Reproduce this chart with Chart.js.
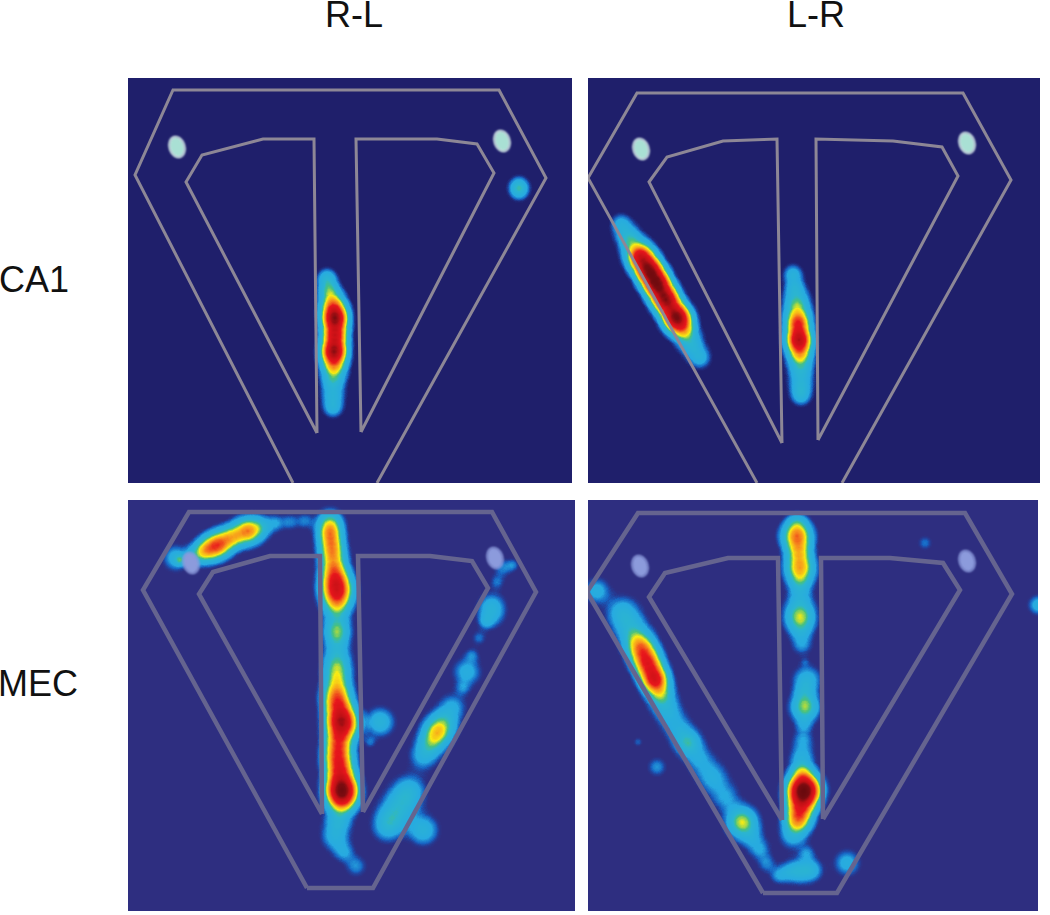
<!DOCTYPE html>
<html>
<head>
<meta charset="utf-8">
<title>Place fields</title>
<script src="https://cdn.jsdelivr.net/npm/chart.js@4"></script>
<style>
  html, body { margin: 0; background: #fff; }
  body { position: relative; width: 1050px; height: 915px; overflow: hidden; font-family: "Liberation Sans", Arial, sans-serif; color: #111; }
  .label { position: absolute; font-size: 36px; line-height: 36px; }
  canvas { position: absolute; }
</style>
</head>
<body>
<div class="label" style="left:325px;top:-3px">R-L</div>
<div class="label" style="left:787px;top:-3px">L-R</div>
<div class="label" style="left:-1px;top:262px">CA1</div>
<div class="label" style="left:-2px;top:666px">MEC</div>
<canvas id="ca1RL" style="left:128px;top:78px" width="444" height="405"></canvas>
<canvas id="ca1LR" style="left:588px;top:78px" width="452" height="405"></canvas>
<canvas id="mecRL" style="left:128px;top:500px" width="447" height="411"></canvas>
<canvas id="mecLR" style="left:588px;top:500px" width="450" height="411"></canvas>
<script>
// track walls, [x, y] in figure pixels
const ca1RLOuter = [[293,483],[135,175],[173,90],[499,90],[546,178],[377,483]];
const ca1RLInnerL = [[317,433],[314,139],[263,139],[202,155],[186,182],[317,433]];
const ca1RLInnerR = [[361,432],[356,139],[437,139],[477,144],[494,173],[361,432]];
const ca1LROuter = [[757,483],[588,178],[637,93],[963,93],[1011,180],[842,483]];
const ca1LRInnerL = [[782,443],[777,139],[723,141],[667,157],[649,182],[782,443]];
const ca1LRInnerR = [[818,440],[816,139],[893,141],[942,147],[958,176],[818,440]];
const mecRLOuter = [[307,888],[143,590],[189,512],[492,512],[536,592],[373,888],[307,888]];
const mecRLInnerL = [[322,814],[320,556],[270,556],[213,572],[199,594],[322,814]];
const mecRLInnerR = [[363,812],[358,556],[430,556],[472,561],[488,588],[363,812]];
const mecLROuter = [[763,893],[587,592],[638,513],[965,513],[1012,594],[837,893],[763,893]];
const mecLRInnerL = [[782,820],[778,558],[728,558],[665,573],[649,597],[782,820]];
const mecLRInnerR = [[823,819],[821,558],[890,558],[943,563],[960,590],[823,819]];

// reward ports, [x, y]
const ca1RLPorts = [[177,147],[502,141]];
const ca1LRPorts = [[641,149],[967,143]];
const mecRLPorts = [[191,563],[495,558]];
const mecLRPorts = [[640,566],[967,561]];

// firing rate bumps, [x, y, radius, rate]
const ca1RLRates = [[327,278,18,.16],[329,290,20,.2],[333,304,24,.35],[335,318,24,.75],[335,335,24,.55],[334,352,24,.75],[334,368,24,.3],[333,382,22,.14],[333,396,22,.13],[333,408,18,.13],[519,186,18,.14],[519,191,18,.12]];
const ca1LRRates = [[621,224,20,.12],[629,238,24,.2],[640,256,26,.6],[649,270,26,.7],[657,284,26,.75],[666,300,26,.75],[677,318,26,.85],[685,332,24,.25],[692,346,24,.14],[700,358,20,.13],[793,274,18,.14],[795,288,20,.14],[797,304,24,.25],[798,322,24,.5],[799,340,24,.7],[800,356,24,.3],[801,372,24,.14],[801,386,22,.13],[801,396,18,.13]];
const mecRLRates = [[176,558,24,.14],[180,560,10,.15],[195,556,20,.1],[205,551,24,.3],[218,545,26,.45],[232,537,24,.28],[248,531,26,.42],[262,527,22,.13],[276,523,16,.09],[290,522,16,.08],[305,521,16,.08],[330,522,24,.22],[330,534,24,.34],[332,548,24,.32],[333,562,26,.28],[335,576,26,.32],[337,590,30,.55],[337,604,26,.2],[337,618,26,.11],[337,632,24,.24],[337,646,24,.11],[337,660,26,.14],[337,672,26,.22],[337,686,26,.2],[337,700,28,.42],[341,715,28,.28],[342,725,30,.6],[338,742,26,.32],[338,757,28,.42],[340,772,28,.38],[342,790,30,.8],[342,802,28,.25],[338,822,26,.14],[335,838,26,.12],[344,852,20,.1],[356,866,20,.09],[380,722,26,.17],[370,742,12,.07],[410,790,30,.12],[402,803,34,.14],[392,818,32,.14],[387,828,28,.1],[423,830,28,.16],[453,706,26,.1],[444,722,28,.16],[437,733,28,.3],[430,745,26,.14],[423,757,26,.11],[463,688,14,.07],[467,672,26,.13],[472,655,14,.07],[479,638,14,.07],[486,622,14,.08],[492,605,26,.1],[491,615,26,.1],[497,582,14,.07],[503,568,18,.08],[513,565,12,.07]];
const mecLRRates = [[597,591,24,.13],[925,543,14,.07],[1038,605,18,.14],[638,742,10,.06],[657,767,18,.09],[847,863,24,.13],[622,612,30,.13],[630,626,32,.12],[637,640,28,.18],[642,650,28,.33],[648,664,28,.45],[655,680,26,.55],[661,696,26,.22],[668,712,28,.12],[678,728,28,.1],[688,743,26,.22],[700,760,28,.1],[713,778,30,.12],[726,798,28,.1],[742,822,28,.33],[752,838,24,.09],[760,850,20,.09],[767,864,18,.08],[797,522,20,.1],[797,536,28,.45],[799,552,24,.22],[800,568,28,.38],[800,582,22,.12],[800,596,24,.11],[800,616,28,.3],[801,630,24,.1],[802,645,20,.09],[805,662,10,.04],[807,680,26,.15],[804,692,20,.08],[805,707,26,.3],[804,725,18,.08],[803,740,20,.09],[802,757,24,.12],[802,772,22,.18],[804,790,30,.95],[801,806,28,.32],[798,820,26,.38],[793,836,26,.12],[807,853,16,.08],[788,872,20,.1],[800,871,24,.14],[812,870,22,.12],[778,876,16,.08]];

// value -> colour stops of the map
const rampStops = [[.02,30,60,160,0],[.06,23,102,196,255],[.10,39,170,225,255],[.21,43,181,208,255],[.26,70,192,130,255],[.33,247,236,19,255],[.43,247,148,29,255],[.56,232,22,28,255],[.75,192,16,21,255],[.88,122,12,16,255],[1,106,10,14,255]];

function buildRamp() {
    const ramp = [];
    for (let v = 0; v < 256; v++) {
        const t = v / 255;
        let i = 0;
        while (i < rampStops.length - 2 && t > rampStops[i + 1][0]) i++;
        const a = rampStops[i], b = rampStops[i + 1];
        const k = Math.min(1, Math.max(0, (t - a[0]) / (b[0] - a[0])));
        ramp.push([1, 2, 3, 4].map(c => a[c] + (b[c] - a[c]) * k));
    }
    return ramp;
}
const ramp = buildRamp();

// rates add up in the alpha channel, then get coloured with the ramp
const heatPlugin = {
    id: "heatPlugin",
    beforeDatasetDraw(chart, args) {
        if (args.meta.type === "bubble") chart.ctx.globalCompositeOperation = "lighter";
    },
    afterDatasetDraw(chart, args) {
        if (args.meta.type !== "bubble") return;
        const ctx = chart.ctx;
        ctx.globalCompositeOperation = "source-over";
        const img = ctx.getImageData(0, 0, chart.width, chart.height);
        const px = img.data;
        for (let i = 0; i < px.length; i += 4) {
            const c = ramp[px[i + 3]];
            px[i] = c[0]; px[i + 1] = c[1]; px[i + 2] = c[2]; px[i + 3] = c[3];
        }
        ctx.putImageData(img, 0, 0);
    }
};

function bumpFill(context) {
    const raw = context.raw;
    if (!raw) return "rgba(0,0,0,0)";
    const { chart } = context;
    const x = chart.scales.x.getPixelForValue(raw.x);
    const y = chart.scales.y.getPixelForValue(raw.y);
    // scales have no pixel size yet on the first pass
    if (!Number.isFinite(x) || !Number.isFinite(y)) return "rgba(0,0,0,0)";
    const g = chart.ctx.createRadialGradient(x, y, 0, x, y, raw.r);
    [[0, 1], [.2, .835], [.4, .487], [.6, .198], [.8, .056], [1, 0]].forEach(s => {
        g.addColorStop(s[0], `rgba(0,0,0,${raw.rate * s[1]})`);
    });
    return g;
}

function ovalStyle(fill, edge) {
    const c = document.createElement("canvas");
    c.width = 26;
    c.height = 30;
    const g = c.getContext("2d");
    g.filter = "blur(0.8px)";
    g.beginPath();
    g.ellipse(13, 15, 7.5, 10.5, -0.3, 0, Math.PI * 2);
    g.fillStyle = fill;
    g.strokeStyle = edge;
    g.lineWidth = 1.5;
    g.fill();
    g.stroke();
    return c;
}

function wall(points, color, width) {
    return {
        type: "line",
        data: points.map(p => ({ x: p[0], y: p[1] })),
        borderColor: color,
        borderWidth: width,
        borderJoinStyle: "miter",
        pointRadius: 0,
        tension: 0
    };
}

function drawPanel(id, opts) {
    const canvas = document.getElementById(id);
    canvas.style.backgroundColor = opts.background;
    const datasets = [];
    datasets.push({
        type: "line",
        showLine: false,
        data: opts.ports.map(p => ({ x: p[0], y: p[1] })),
        pointStyle: ovalStyle(opts.portColor, opts.portEdge)
    });
    opts.walls.forEach(w => datasets.push(wall(w, opts.wallColor, opts.wallWidth)));
    datasets.push({
        data: opts.rates.map(p => ({ x: p[0], y: p[1], r: p[2], rate: p[3] })),
        backgroundColor: bumpFill,
        borderWidth: 0
    });
    new Chart(canvas, {
        type: "bubble",
        data: { datasets },
        plugins: [heatPlugin],
        options: {
            responsive: false,
            animation: false,
            layout: { padding: 0, autoPadding: false },
            plugins: { legend: { display: false }, tooltip: { enabled: false } },
            scales: {
                x: { type: "linear", display: false, min: opts.x[0], max: opts.x[1] },
                y: { type: "linear", display: false, min: opts.y[0], max: opts.y[1], reverse: true }
            }
        }
    });
}

drawPanel("ca1RL", {
    x: [128, 572], y: [78, 483], background: "#1f1f6b",
    walls: [ca1RLOuter, ca1RLInnerL, ca1RLInnerR], wallColor: "#8d8796", wallWidth: 3,
    ports: ca1RLPorts, portColor: "#a9e0d4", portEdge: "#eef9f8", rates: ca1RLRates
});
drawPanel("ca1LR", {
    x: [588, 1040], y: [78, 483], background: "#1f1f6b",
    walls: [ca1LROuter, ca1LRInnerL, ca1LRInnerR], wallColor: "#8d8796", wallWidth: 3,
    ports: ca1LRPorts, portColor: "#a9e0d4", portEdge: "#eef9f8", rates: ca1LRRates
});
drawPanel("mecRL", {
    x: [128, 575], y: [500, 911], background: "#2e2e80",
    walls: [mecRLOuter, mecRLInnerL, mecRLInnerR], wallColor: "#65648f", wallWidth: 4.5,
    ports: mecRLPorts, portColor: "#8c9bdc", portEdge: "#8c9bdc", rates: mecRLRates
});
drawPanel("mecLR", {
    x: [588, 1038], y: [500, 911], background: "#2e2e80",
    walls: [mecLROuter, mecLRInnerL, mecLRInnerR], wallColor: "#65648f", wallWidth: 4.5,
    ports: mecLRPorts, portColor: "#8c9bdc", portEdge: "#8c9bdc", rates: mecLRRates
});
</script>
</body>
</html>
